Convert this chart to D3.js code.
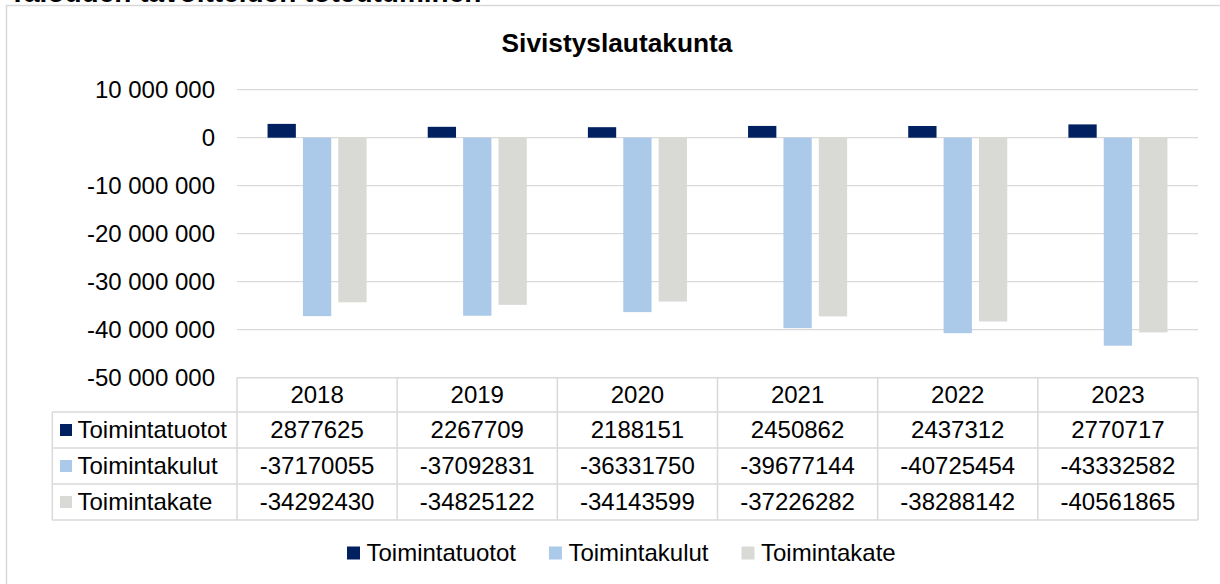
<!DOCTYPE html>
<html>
<head>
<meta charset="utf-8">
<script src="https://cdn.jsdelivr.net/npm/d3@7/dist/d3.min.js"></script>
<style>
  html, body { margin: 0; padding: 0; background: #fff; }
  svg { display: block; font-family: "Liberation Sans", Arial, sans-serif; }
</style>
</head>
<body>
<svg id="chart" width="1220" height="584"></svg>
<script>
const pageTitle = "Talouden tavoitteiden toteutuminen";
const chartTitle = "Sivistyslautakunta";
const categories = ["2018", "2019", "2020", "2021", "2022", "2023"];
const seriesNames = ["Toimintatuotot", "Toimintakulut", "Toimintakate"];
const toimintatuotot = [2877625, 2267709, 2188151, 2450862, 2437312, 2770717];
const toimintakulut = [-37170055, -37092831, -36331750, -39677144, -40725454, -43332582];
const toimintakate = [-34292430, -34825122, -34143599, -37226282, -38288142, -40561865];
const yTicks = [10000000, 0, -10000000, -20000000, -30000000, -40000000, -50000000];
const colors = ["#002060", "#ABCAE9", "#D9D9D5"];

const series = [toimintatuotot, toimintakulut, toimintakate];

const svg = d3.select("#chart");
const gridColor = "#d9d9d9";
const fs = 24;

// page title partially visible at top
svg.append("text").attr("x", 9).attr("y", 2)
  .attr("font-size", 28).attr("font-weight", "bold").attr("fill", "#000")
  .text(pageTitle);

// chart area border
svg.append("rect").attr("x", 6.5).attr("y", 5.5).attr("width", 1240).attr("height", 600)
  .attr("fill", "#fff").attr("stroke", gridColor).attr("stroke-width", 1.5);

// chart title
svg.append("text").attr("x", 617).attr("y", 52).attr("text-anchor", "middle")
  .attr("font-size", 26.3).attr("font-weight", "bold").attr("fill", "#000")
  .text(chartTitle);

const plotLeft = 237, plotRight = 1198;
const y = d3.scaleLinear().domain([-50000000, 10000000]).range([377.7, 89.7]);
const x = d3.scaleBand().domain(categories).range([plotLeft, plotRight]).padding(0);

// gridlines
svg.append("g").selectAll("line").data(yTicks.filter(t => t > -50000000)).join("line")
  .attr("x1", plotLeft).attr("x2", plotRight)
  .attr("y1", d => y(d)).attr("y2", d => y(d))
  .attr("stroke", gridColor).attr("stroke-width", 1.3);

// y labels
const fmt = v => {
  const s = d3.format(",")(Math.abs(v)).replace(/,/g, " ");
  return (v < 0 ? "-" : "") + s;
};
svg.append("g").selectAll("text").data(yTicks).join("text")
  .attr("x", 215).attr("y", d => y(d)).attr("dy", "0.35em")
  .attr("text-anchor", "end").attr("font-size", fs).attr("fill", "#000")
  .text(fmt);

// bars
const bw = x.bandwidth() * 0.1767;
const step = bw * 1.25;
const groupW = step * 2 + bw;
series.forEach((vals, si) => {
  svg.append("g").selectAll("rect").data(vals).join("rect")
    .attr("x", (d, i) => x(categories[i]) + (x.bandwidth() - groupW) / 2 + si * step)
    .attr("width", bw)
    .attr("y", d => Math.min(y(d), y(0)))
    .attr("height", d => Math.abs(y(d) - y(0)))
    .attr("fill", colors[si]);
});

// data table
const rowEdges = [377.7, 412, 448, 484, 520];
const labelLeft = 52.3;
const tg = svg.append("g");
const lineAttrs = sel => sel.attr("stroke", gridColor).attr("stroke-width", 1.5).attr("fill", "none");
rowEdges.forEach((ry, ri) => {
  tg.append("line").attr("x1", ri === 0 ? plotLeft : labelLeft).attr("x2", plotRight)
    .attr("y1", ry).attr("y2", ry).call(lineAttrs);
});
tg.append("line").attr("x1", labelLeft).attr("x2", labelLeft).attr("y1", rowEdges[1]).attr("y2", rowEdges[4]).call(lineAttrs);
categories.forEach(c => {
  tg.append("line").attr("x1", x(c)).attr("x2", x(c)).attr("y1", rowEdges[0]).attr("y2", rowEdges[4]).call(lineAttrs);
});
tg.append("line").attr("x1", plotRight).attr("x2", plotRight).attr("y1", rowEdges[0]).attr("y2", rowEdges[4]).call(lineAttrs);

tg.selectAll("text.hdr").data(categories).join("text").attr("class", "hdr")
  .attr("x", c => x(c) + x.bandwidth() / 2).attr("y", (rowEdges[0] + rowEdges[1]) / 2).attr("dy", "0.35em")
  .attr("text-anchor", "middle").attr("font-size", fs).attr("fill", "#000").text(c => c);

series.forEach((vals, si) => {
  const cy = (rowEdges[si + 1] + rowEdges[si + 2]) / 2;
  tg.append("rect").attr("x", 60).attr("y", cy - 6).attr("width", 12).attr("height", 12).attr("fill", colors[si]);
  tg.append("text").attr("x", 77.5).attr("y", cy).attr("dy", "0.35em")
    .attr("font-size", fs).attr("fill", "#000").text(seriesNames[si]);
  tg.append("g").selectAll("text").data(vals).join("text")
    .attr("x", (d, i) => x(categories[i]) + x.bandwidth() / 2).attr("y", cy).attr("dy", "0.35em")
    .attr("text-anchor", "middle").attr("font-size", fs).attr("fill", "#000").text(d => String(d));
});

// bottom legend
const lg = svg.append("g");
let lx = 347;
const ly = 553;
seriesNames.forEach((n, si) => {
  lg.append("rect").attr("x", lx).attr("y", ly - 6.5).attr("width", 13).attr("height", 13).attr("fill", colors[si]);
  const t = lg.append("text").attr("x", lx + 19.5).attr("y", ly).attr("dy", "0.35em")
    .attr("font-size", fs).attr("fill", "#000").text(n);
  lx = lx + 19.5 + t.node().getComputedTextLength() + 33;
});
</script>
</body>
</html>
